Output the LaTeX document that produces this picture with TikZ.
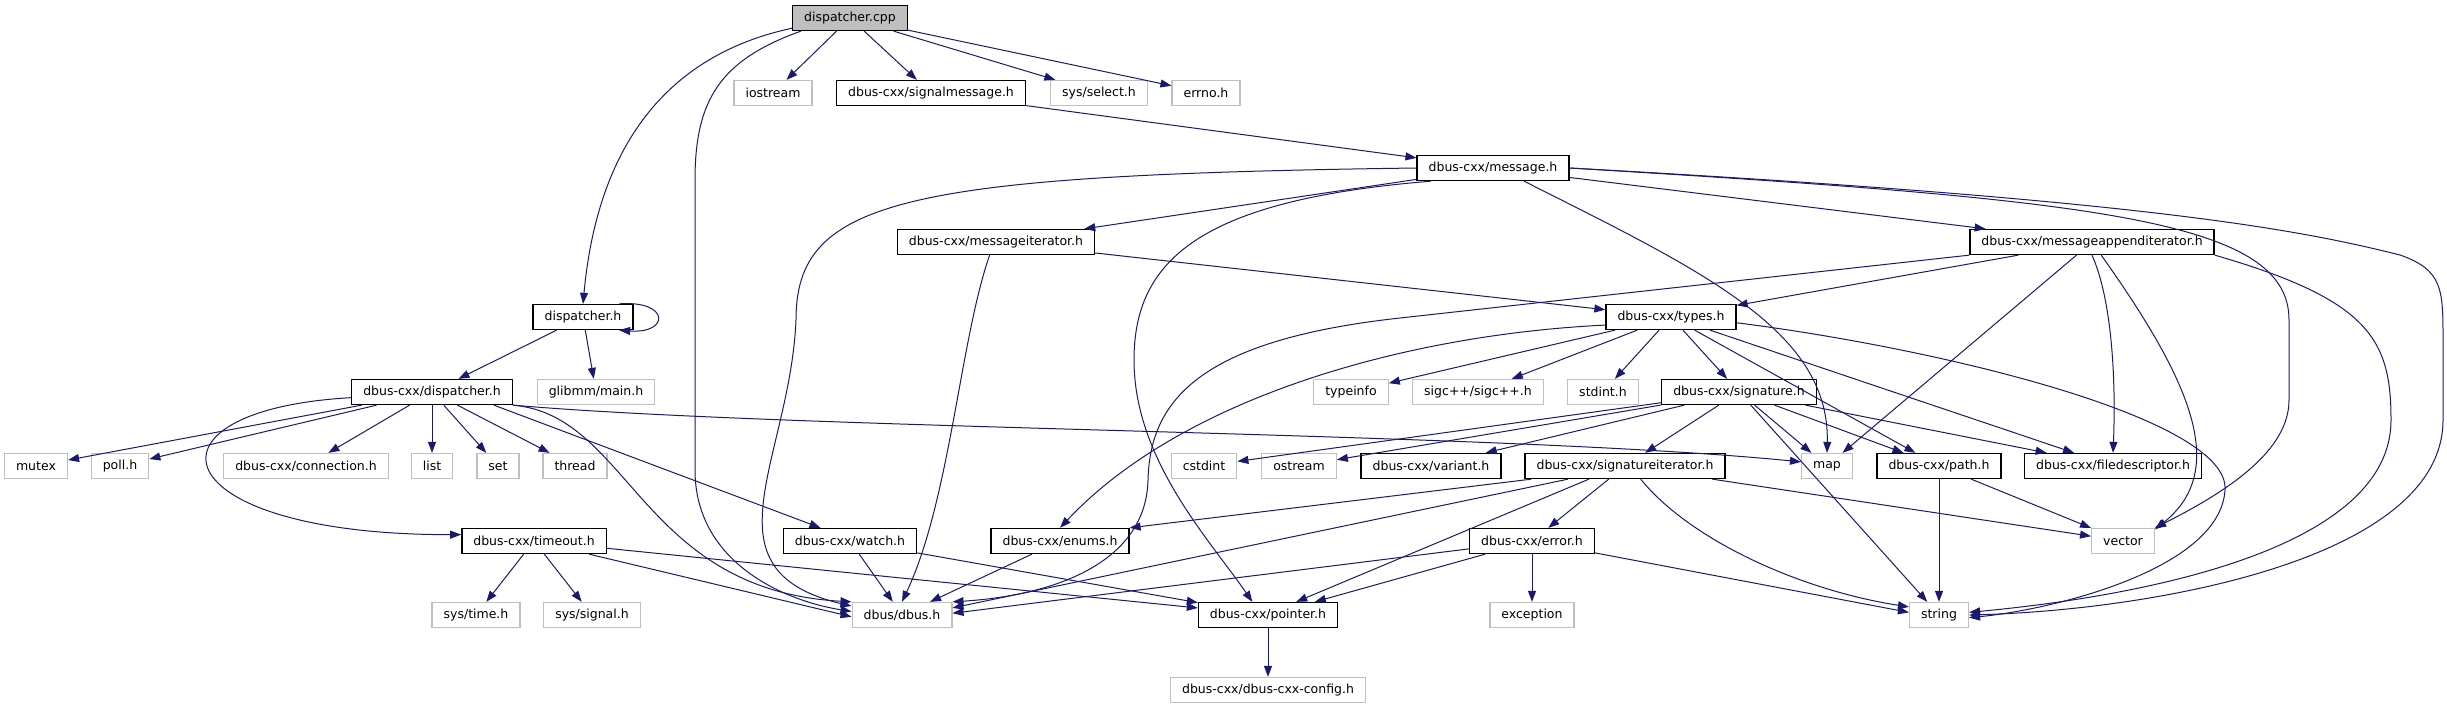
\documentclass[tikz,border=0pt]{standalone}
\usepackage{fontspec}
\setmainfont{DejaVu Sans}
\usetikzlibrary{arrows.meta}
\definecolor{edgeblue}{HTML}{191970}
\definecolor{boxgray}{HTML}{BFBFBF}

\begin{document}
\begin{tikzpicture}[x=1pt, y=-1pt,
  every node/.style={font=\fontsize{12.5}{15}\selectfont, minimum height=25pt, inner xsep=11.5pt, inner ysep=0pt},
  hdr/.style={draw=black, line width=1.3pt, fill=white},
  sys/.style={draw=boxgray, line width=1.3pt, fill=white},
  src/.style={draw=black, line width=1.3pt, fill=boxgray},
  dep/.style={draw=edgeblue, line width=1pt, -{Triangle[length=11pt,width=8pt]}}
]
\useasboundingbox (0,0) rectangle (2447,709);

\node[src] (dcpp) at (850,18) {dispatcher.cpp};
\node[sys] (iostream) at (773,93) {iostream};
\node[hdr] (sigmsg) at (931,93) {dbus-cxx/signalmessage.h};
\node[sys] (select) at (1099,93) {sys/select.h};
\node[sys] (errno) at (1206,93) {errno.h};
\node[hdr] (message) at (1493,168) {dbus-cxx/message.h};
\node[hdr] (msgiter) at (996,242) {dbus-cxx/messageiterator.h};
\node[hdr] (msgappend) at (2092,242) {dbus-cxx/messageappenditerator.h};
\node[hdr] (disph) at (583,317) {dispatcher.h};
\node[hdr] (types) at (1671,317) {dbus-cxx/types.h};
\node[hdr] (cxxdisp) at (432,392) {dbus-cxx/dispatcher.h};
\node[sys] (glibmm) at (596,392) {glibmm/main.h};
\node[sys] (typeinfo) at (1351,392) {typeinfo};
\node[sys] (sigc) at (1478,392) {sigc++/sigc++.h};
\node[sys] (stdinth) at (1603,392) {stdint.h};
\node[hdr] (signature) at (1739,392) {dbus-cxx/signature.h};
\node[sys] (mutex) at (36,466) {mutex};
\node[sys] (poll) at (120,466) {poll.h};
\node[sys] (connection) at (306,466) {dbus-cxx/connection.h};
\node[sys] (list) at (432,466) {list};
\node[sys] (set) at (498,466) {set};
\node[sys] (thread) at (575,466) {thread};
\node[sys] (cstdint) at (1204,466) {cstdint};
\node[sys] (ostream) at (1299,466) {ostream};
\node[hdr] (variant) at (1431,466) {dbus-cxx/variant.h};
\node[hdr] (sigiter) at (1625,466) {dbus-cxx/signatureiterator.h};
\node[sys] (map) at (1827,466) {map};
\node[hdr] (path) at (1939,466) {dbus-cxx/path.h};
\node[hdr] (filedesc) at (2113,466) {dbus-cxx/filedescriptor.h};
\node[hdr] (timeout) at (534,541) {dbus-cxx/timeout.h};
\node[hdr] (watch) at (850,541) {dbus-cxx/watch.h};
\node[hdr] (enums) at (1060,541) {dbus-cxx/enums.h};
\node[hdr] (error) at (1532,541) {dbus-cxx/error.h};
\node[sys] (vector) at (2123,541) {vector};
\node[sys] (systime) at (476,615) {sys/time.h};
\node[sys] (syssignal) at (592,615) {sys/signal.h};
\node[sys] (dbus) at (902,615) {dbus/dbus.h};
\node[hdr] (pointer) at (1268,615) {dbus-cxx/pointer.h};
\node[sys] (exception) at (1532,615) {exception};
\node[sys] (string) at (1939,615) {string};
\node[sys] (config) at (1268,690) {dbus-cxx/dbus-cxx-config.h};

% dispatcher.cpp
\draw[dep] (dcpp.190) .. controls (690,50) and (600,120) .. (disph.north);
\draw[dep] (dcpp.195) .. controls (720,60) and (695,100) .. (695,180) -- (695,470) .. controls (695,560) and (780,600) .. (dbus.176);
\draw[dep] (dcpp) -- (iostream);
\draw[dep] (dcpp) -- (sigmsg);
\draw[dep] (dcpp) -- (select);
\draw[dep] (dcpp) -- (errno);

% dispatcher.h
\draw[dep] (disph.20) .. controls (670,300) and (670,334) .. (disph.-20);
\draw[dep] (disph) -- (cxxdisp);
\draw[dep] (disph) -- (glibmm);

\draw[dep] (sigmsg) -- (message);

% message.h
\draw[dep] (message.west) .. controls (900,175) and (796,200) .. (796,320) .. controls (790,460) and (700,570) .. (dbus.170);
\draw[dep] (message) -- (msgiter);
\draw[dep] (message.192) .. controls (1200,200) and (1134,260) .. (1134,360) .. controls (1134,460) and (1210,540) .. (pointer.140);
\draw[dep] (message.-23) .. controls (1700,270) and (1830,330) .. (map.north);
\draw[dep] (message) -- (msgappend);
\draw[dep] (message.east) .. controls (2100,200) and (2289,220) .. (2289,320) -- (2289,400) .. controls (2289,450) and (2230,490) .. (vector.north east);
\draw[dep] (message.east) .. controls (2150,200) and (2300,230) .. (2400,255) .. controls (2443,270) and (2443,290) .. (2443,340) -- (2443,420) .. controls (2443,560) and (2150,610) .. (string.east);

% messageiterator.h
\draw[dep] (msgiter.-116) .. controls (960,340) and (950,500) .. (dbus.north);
\draw[dep] (msgiter) -- (types);

% messageappenditerator.h
\draw[dep] (msgappend.south west) -- (1400,318) .. controls (1200,340) and (1150,400) .. (1148,480) .. controls (1146,560) and (1060,595) .. (dbus.north east);
\draw[dep] (msgappend) -- (types);
\draw[dep] (msgappend) -- (map);
\draw[dep] (msgappend.south) .. controls (2112,300) and (2116,380) .. (filedesc.north);
\draw[dep] (msgappend.-55) .. controls (2190,380) and (2230,470) .. (vector.20);
\draw[dep] (msgappend.south east) .. controls (2370,300) and (2391,340) .. (2391,420) .. controls (2391,560) and (2100,600) .. (string.5);

% dbus-cxx/dispatcher.h
\draw[dep] (cxxdisp.184) .. controls (130,410) and (160,535) .. (timeout.175);
\draw[dep] (cxxdisp) -- (mutex);
\draw[dep] (cxxdisp) -- (poll);
\draw[dep] (cxxdisp) -- (connection);
\draw[dep] (cxxdisp) -- (list);
\draw[dep] (cxxdisp) -- (set);
\draw[dep] (cxxdisp) -- (thread);
\draw[dep] (cxxdisp.-12) -- (watch.156);
\draw[dep] (cxxdisp.south east) .. controls (630,415) and (640,590) .. (dbus.north west);
\draw[dep] (cxxdisp.south east) .. controls (800,430) and (1500,432) .. (map.171);

% timeout.h, watch.h, enums.h
\draw[dep] (timeout) -- (systime);
\draw[dep] (timeout) -- (syssignal);
\draw[dep] (timeout) -- (pointer);
\draw[dep] (timeout) -- (dbus.182);
\draw[dep] (watch) -- (dbus);
\draw[dep] (watch) -- (pointer);
\draw[dep] (enums) -- (dbus);

% types.h
\draw[dep] (types.187) .. controls (1400,335) and (1180,400) .. (enums.north);
\draw[dep] (types) -- (typeinfo);
\draw[dep] (types) -- (sigc);
\draw[dep] (types) -- (stdinth);
\draw[dep] (types) -- (signature);
\draw[dep] (types) -- (path);
\draw[dep] (types) -- (filedesc);
\draw[dep] (types.-5) .. controls (1950,350) and (2230,420) .. (2225,490) .. controls (2220,570) and (2050,610) .. (string.-5);

% signature.h
\draw[dep] (signature) -- (cstdint);
\draw[dep] (signature) -- (ostream);
\draw[dep] (signature) -- (variant);
\draw[dep] (signature) -- (sigiter);
\draw[dep] (signature) -- (map);
\draw[dep] (signature) -- (path);
\draw[dep] (signature) -- (filedesc);
\draw[dep] (signature) -- (string);

% signatureiterator.h
\draw[dep] (sigiter.188) -- (enums.north east);
\draw[dep] (sigiter.193) -- (dbus.8);
\draw[dep] (sigiter.200) -- (pointer.25);
\draw[dep] (sigiter) -- (error);
\draw[dep] (sigiter) -- (vector);
\draw[dep] (sigiter.-40) .. controls (1690,540) and (1800,590) .. (string.165);

% error.h, path.h, pointer.h
\draw[dep] (error) -- (dbus.2);
\draw[dep] (error) -- (pointer);
\draw[dep] (error) -- (exception);
\draw[dep] (error) -- (string.175);
\draw[dep] (path) -- (string);
\draw[dep] (path) -- (vector);
\draw[dep] (pointer) -- (config);
\end{tikzpicture}
\end{document}
